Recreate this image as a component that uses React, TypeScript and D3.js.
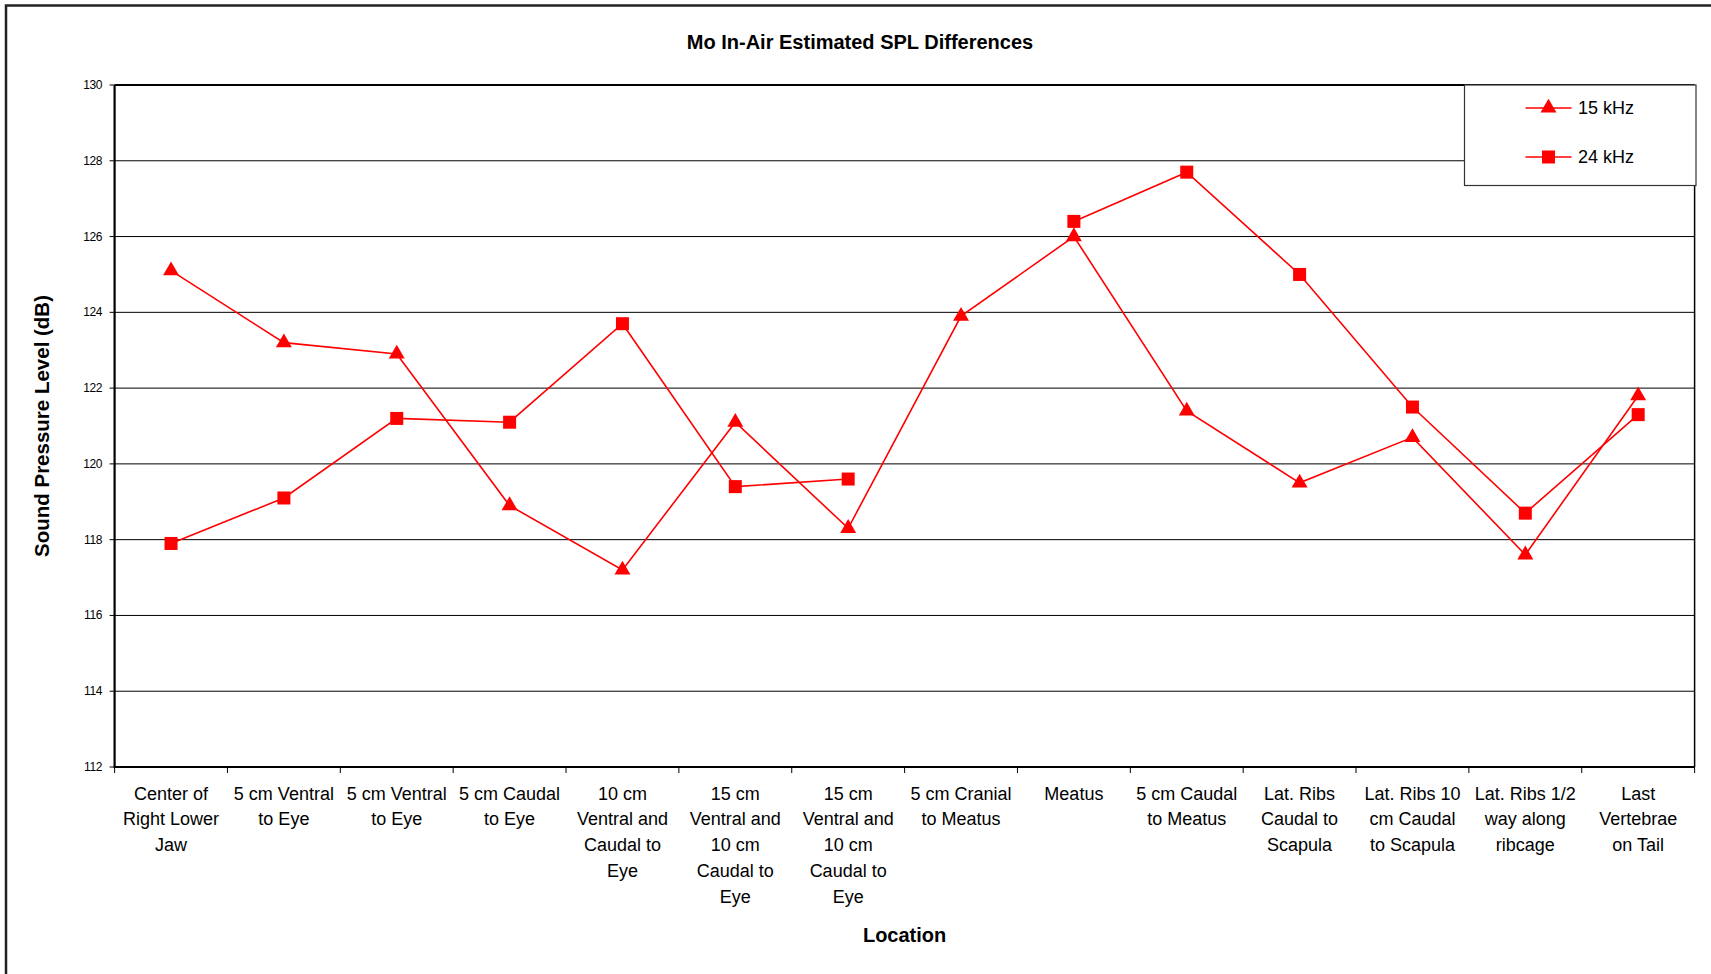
import React from "react";
import * as d3 from "d3";

const categories: string[] = [
  "Center of\nRight Lower\nJaw",
  "5 cm Ventral\nto Eye",
  "5 cm Ventral\nto Eye",
  "5 cm Caudal\nto Eye",
  "10 cm\nVentral and\nCaudal to\nEye",
  "15 cm\nVentral and\n10 cm\nCaudal to\nEye",
  "15 cm\nVentral and\n10 cm\nCaudal to\nEye",
  "5 cm Cranial\nto Meatus",
  "Meatus",
  "5 cm Caudal\nto Meatus",
  "Lat. Ribs\nCaudal to\nScapula",
  "Lat. Ribs 10\ncm Caudal\nto Scapula",
  "Lat. Ribs 1/2\nway along\nribcage",
  "Last\nVertebrae\non Tail",
];

const khz15: (number | null)[] = [125.1, 123.2, 122.9, 118.9, 117.2, 121.1, 118.3, 123.9, 126.0, 121.4, 119.5, 120.7, 117.6, 121.8];
const khz24: (number | null)[] = [117.9, 119.1, 121.2, 121.1, 123.7, 119.4, 119.6, null, 126.4, 127.7, 125.0, 121.5, 118.7, 121.3];

const yTicks: number[] = [112, 114, 116, 118, 120, 122, 124, 126, 128, 130];
const seriesNames: string[] = ["15 kHz", "24 kHz"];

const title = "Mo In-Air Estimated SPL Differences";
const xTitle = "Location";
const yTitle = "Sound Pressure Level (dB)";

const W = 1711;
const H = 974;
const plot = { left: 114.6, right: 1694.6, top: 85, bottom: 767 };
const RED = "#FF0000";
const FONT = "'Liberation Sans', Arial, sans-serif";

function Marker({ kind, x, y }: { kind: string; x: number; y: number }) {
  if (kind === "triangle") {
    const s = d3.symbol().type(d3.symbolTriangle).size(110)();
    return <path d={s || ""} transform={`translate(${x},${y})`} fill={RED} />;
  }
  const sz = 13;
  return <rect x={x - sz / 2} y={y - sz / 2} width={sz} height={sz} fill={RED} />;
}

export default function App() {
  const x = d3
    .scaleBand<number>()
    .domain(categories.map((_, i) => i))
    .range([plot.left, plot.right])
    .padding(0);
  const y = d3.scaleLinear().domain([112, 130]).range([plot.bottom, plot.top]);
  const cx = (i: number) => (x(i) as number) + x.bandwidth() / 2;

  const line = d3
    .line<number | null>()
    .defined((d) => d !== null)
    .x((_, i) => cx(i))
    .y((d) => y(d as number));

  const series = [
    { name: seriesNames[0], data: khz15, kind: "triangle" },
    { name: seriesNames[1], data: khz24, kind: "square" },
  ];

  const boundaries = d3.range(categories.length + 1).map((i) =>
    i < categories.length ? (x(i) as number) : plot.right
  );

  const lineH = 25.9;
  const legend = { x: 1464.5, y: 85, w: 231.5, h: 100.5 };
  const legendRows = [108, 157];

  return (
    <div style={{ position: "absolute", left: 0, top: 0 }}>
      <svg width={W} height={H} style={{ display: "block", background: "#fff" }} fontFamily={FONT}>
        <rect x={0} y={0} width={W} height={H} fill="#fff" />
        {/* outer chart frame (extends beyond view) */}
        <rect x={6} y={5.5} width={W + 20} height={H + 20} fill="none" stroke="#222" strokeWidth={2.5} />

        <text x={860} y={41.5} textAnchor="middle" dominantBaseline="central" fontWeight="bold" fontSize={20} fill="#000">
          {title}
        </text>

        {/* gridlines */}
        {yTicks.map((t) => (
          <line key={"g" + t} x1={plot.left} x2={plot.right} y1={y(t)} y2={y(t)} stroke="#000" strokeWidth={1} />
        ))}

        {/* plot border */}
        <line x1={plot.left} x2={plot.right} y1={plot.top} y2={plot.top} stroke="#000" strokeWidth={2} />
        <line x1={plot.right} x2={plot.right} y1={plot.top} y2={plot.bottom} stroke="#000" strokeWidth={1.5} />
        <line x1={plot.left} x2={plot.left} y1={plot.top} y2={plot.bottom + 1} stroke="#000" strokeWidth={2.2} />
        <line x1={plot.left} x2={plot.right} y1={plot.bottom} y2={plot.bottom} stroke="#000" strokeWidth={2.2} />

        {/* y ticks */}
        {yTicks.map((t) => (
          <g key={"yt" + t}>
            <line x1={plot.left - 5} x2={plot.left} y1={y(t)} y2={y(t)} stroke="#000" strokeWidth={1} />
            <text x={102} y={y(t)} textAnchor="end" dominantBaseline="central" fontSize={12} letterSpacing={-0.4} fill="#000">
              {t}
            </text>
          </g>
        ))}

        {/* x ticks */}
        {boundaries.map((b, i) => (
          <line key={"xt" + i} x1={b} x2={b} y1={plot.bottom} y2={plot.bottom + 6} stroke="#000" strokeWidth={1} />
        ))}

        {/* category labels */}
        {categories.map((c, i) => (
          <text key={"c" + i} textAnchor="middle" fontSize={18} fill="#000">
            {c.split("\n").map((ln, j) => (
              <tspan key={j} x={cx(i)} y={799.5 + j * lineH}>
                {ln}
              </tspan>
            ))}
          </text>
        ))}

        <text x={(plot.left + plot.right) / 2} y={935} textAnchor="middle" dominantBaseline="central" fontWeight="bold" fontSize={20} fill="#000">
          {xTitle}
        </text>
        <text
          transform={`translate(41.5,${(plot.top + plot.bottom) / 2}) rotate(-90)`}
          textAnchor="middle"
          dominantBaseline="central"
          fontWeight="bold"
          fontSize={20.5}
          fill="#000"
        >
          {yTitle}
        </text>

        {/* series */}
        {series.map((s) => (
          <g key={s.name}>
            <path d={line(s.data) || ""} fill="none" stroke={RED} strokeWidth={1.6} />
            {s.data.map((d, i) =>
              d === null ? null : <Marker key={i} kind={s.kind} x={cx(i)} y={y(d)} />
            )}
          </g>
        ))}

        {/* legend */}
        <rect x={legend.x} y={legend.y} width={legend.w} height={legend.h} fill="#fff" stroke="#333" strokeWidth={1.2} />
        {series.map((s, k) => (
          <g key={"lg" + k}>
            <line x1={1525.5} x2={1571.5} y1={legendRows[k]} y2={legendRows[k]} stroke={RED} strokeWidth={1.6} />
            <Marker kind={s.kind} x={1548.5} y={legendRows[k]} />
            <text x={1578} y={legendRows[k]} dominantBaseline="central" fontSize={18} fill="#000">
              {s.name}
            </text>
          </g>
        ))}
      </svg>
    </div>
  );
}
